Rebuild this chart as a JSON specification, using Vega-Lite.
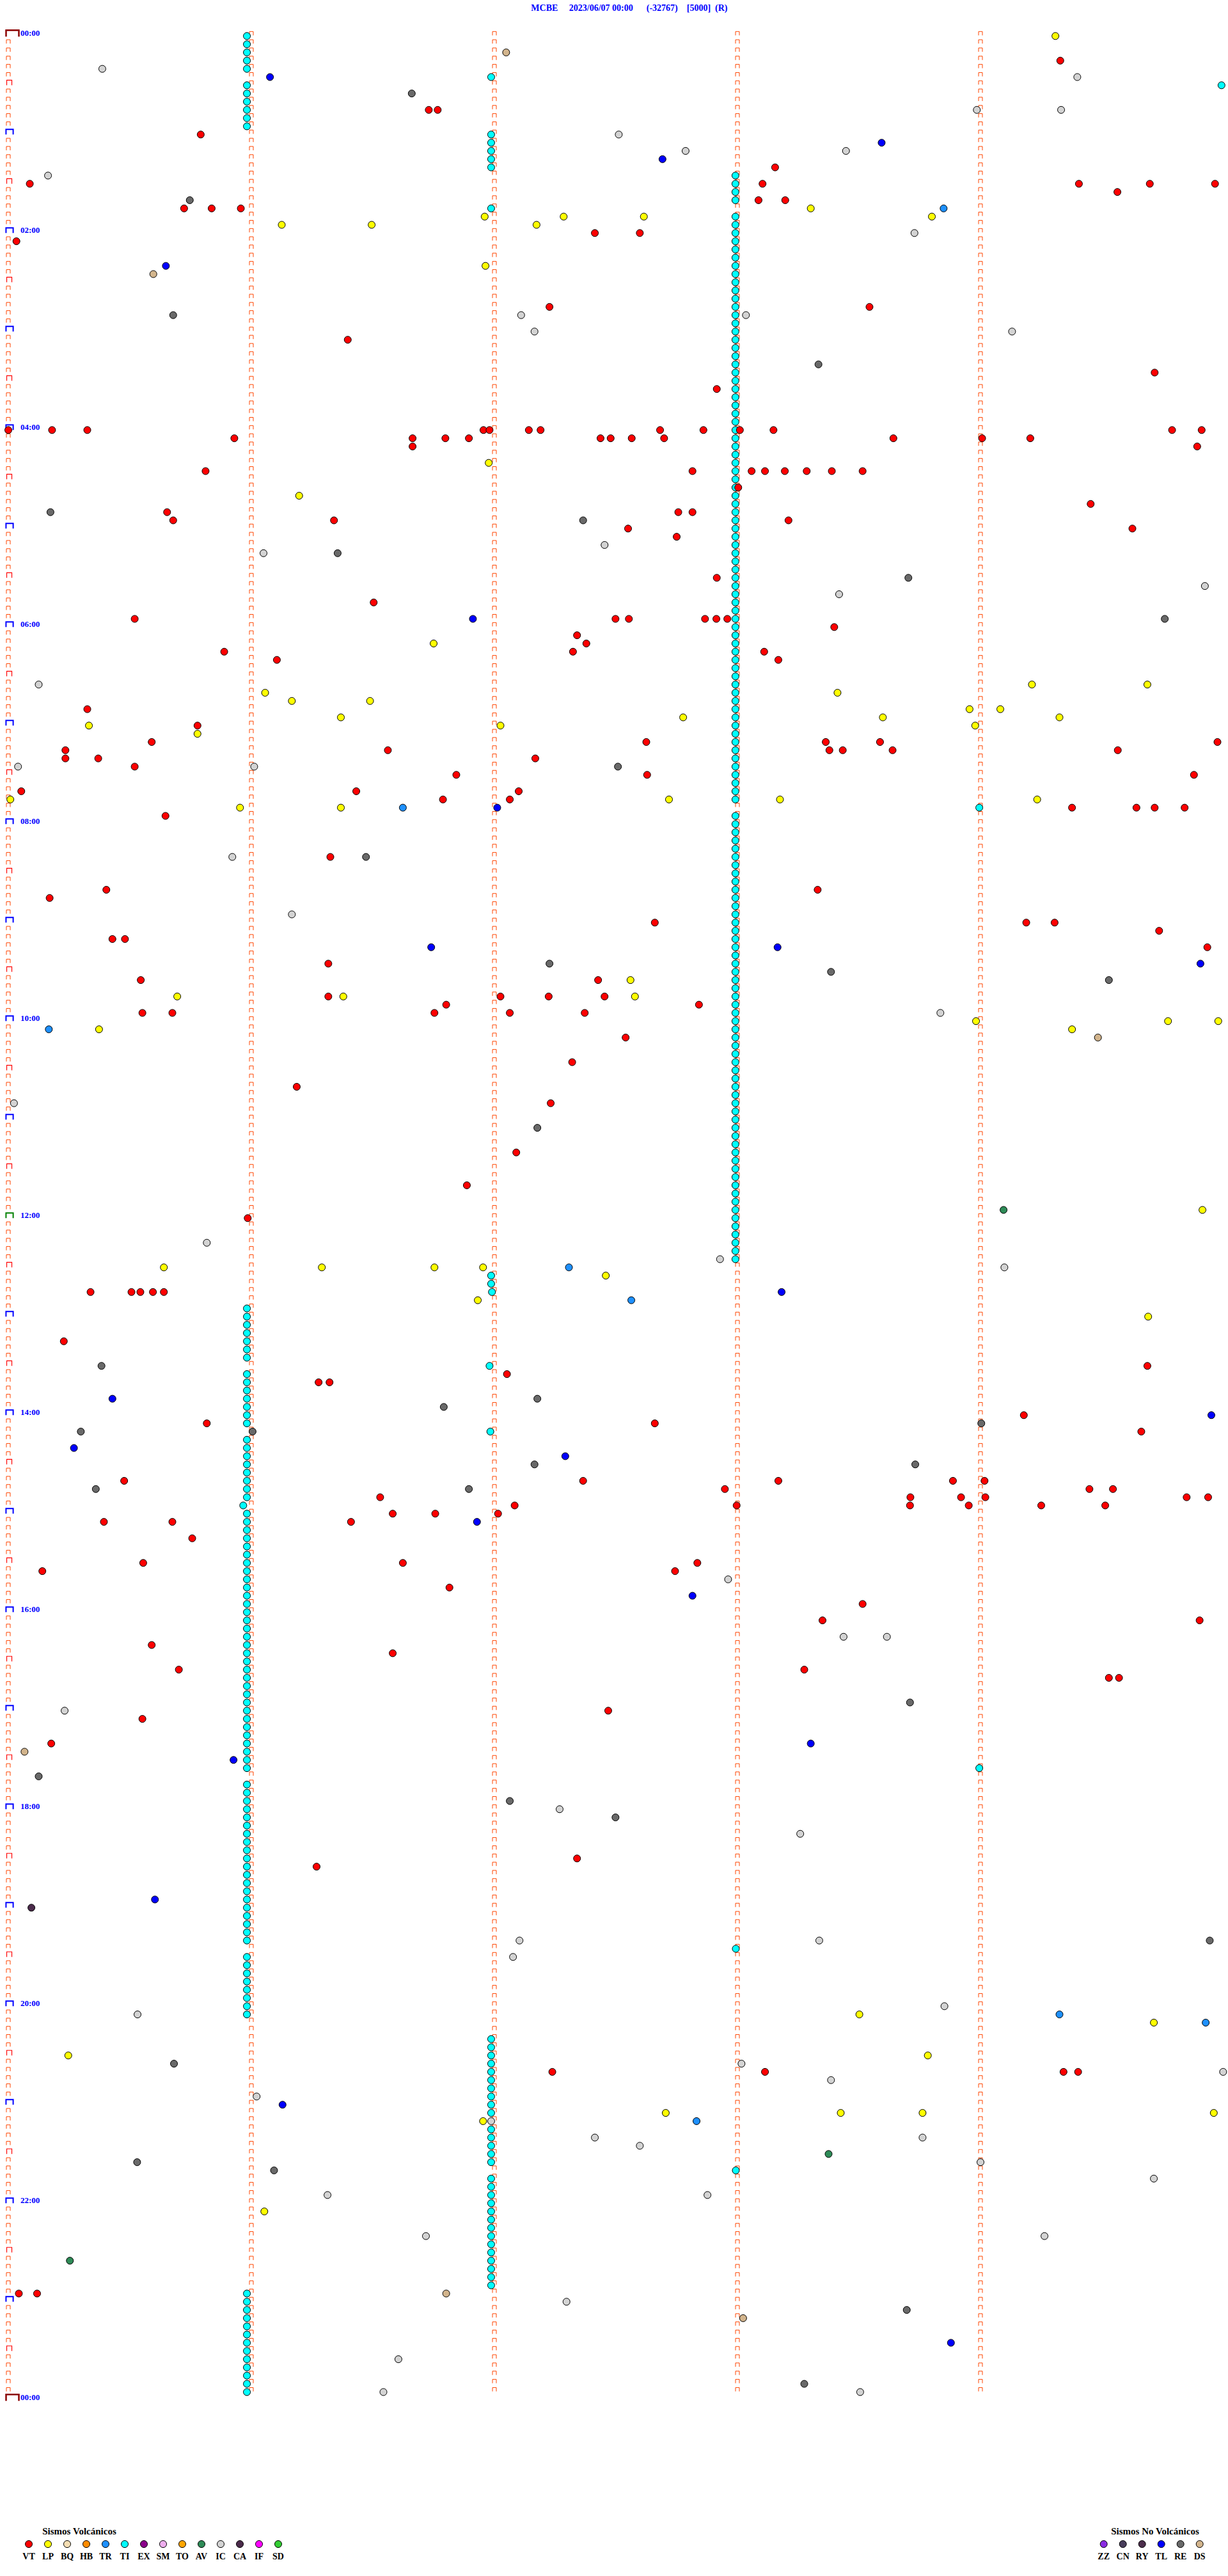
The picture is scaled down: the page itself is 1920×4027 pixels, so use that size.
{
"$schema": "https://vega.github.io/schema/vega-lite/v6.json",
"width": 1920, "height": 4027, "autosize": {"type": "none"}, "padding": 0,
"background": "white",
"config": {"view": {"stroke": null}},
"resolve": {"scale": {"x": "independent"}},
"datasets": {
"rows": [{"r":0,"lab":"00:00"},{"r":1},{"r":2},{"r":3},{"r":4},{"r":5},{"r":6},{"r":7},{"r":8},{"r":9},{"r":10},{"r":11},{"r":12},{"r":13},{"r":14},{"r":15},{"r":16},{"r":17},{"r":18},{"r":19},{"r":20},{"r":21},{"r":22},{"r":23},
{"r":24,"lab":"02:00"},{"r":25},{"r":26},{"r":27},{"r":28},{"r":29},{"r":30},{"r":31},{"r":32},{"r":33},{"r":34},{"r":35},{"r":36},{"r":37},{"r":38},{"r":39},{"r":40},{"r":41},{"r":42},{"r":43},{"r":44},{"r":45},{"r":46},{"r":47},
{"r":48,"lab":"04:00"},{"r":49},{"r":50},{"r":51},{"r":52},{"r":53},{"r":54},{"r":55},{"r":56},{"r":57},{"r":58},{"r":59},{"r":60},{"r":61},{"r":62},{"r":63},{"r":64},{"r":65},{"r":66},{"r":67},{"r":68},{"r":69},{"r":70},{"r":71},
{"r":72,"lab":"06:00"},{"r":73},{"r":74},{"r":75},{"r":76},{"r":77},{"r":78},{"r":79},{"r":80},{"r":81},{"r":82},{"r":83},{"r":84},{"r":85},{"r":86},{"r":87},{"r":88},{"r":89},{"r":90},{"r":91},{"r":92},{"r":93},{"r":94},{"r":95},
{"r":96,"lab":"08:00"},{"r":97},{"r":98},{"r":99},{"r":100},{"r":101},{"r":102},{"r":103},{"r":104},{"r":105},{"r":106},{"r":107},{"r":108},{"r":109},{"r":110},{"r":111},{"r":112},{"r":113},{"r":114},{"r":115},{"r":116},{"r":117},{"r":118},{"r":119},
{"r":120,"lab":"10:00"},{"r":121},{"r":122},{"r":123},{"r":124},{"r":125},{"r":126},{"r":127},{"r":128},{"r":129},{"r":130},{"r":131},{"r":132},{"r":133},{"r":134},{"r":135},{"r":136},{"r":137},{"r":138},{"r":139},{"r":140},{"r":141},{"r":142},{"r":143},
{"r":144,"lab":"12:00"},{"r":145},{"r":146},{"r":147},{"r":148},{"r":149},{"r":150},{"r":151},{"r":152},{"r":153},{"r":154},{"r":155},{"r":156},{"r":157},{"r":158},{"r":159},{"r":160},{"r":161},{"r":162},{"r":163},{"r":164},{"r":165},{"r":166},{"r":167},
{"r":168,"lab":"14:00"},{"r":169},{"r":170},{"r":171},{"r":172},{"r":173},{"r":174},{"r":175},{"r":176},{"r":177},{"r":178},{"r":179},{"r":180},{"r":181},{"r":182},{"r":183},{"r":184},{"r":185},{"r":186},{"r":187},{"r":188},{"r":189},{"r":190},{"r":191},
{"r":192,"lab":"16:00"},{"r":193},{"r":194},{"r":195},{"r":196},{"r":197},{"r":198},{"r":199},{"r":200},{"r":201},{"r":202},{"r":203},{"r":204},{"r":205},{"r":206},{"r":207},{"r":208},{"r":209},{"r":210},{"r":211},{"r":212},{"r":213},{"r":214},{"r":215},
{"r":216,"lab":"18:00"},{"r":217},{"r":218},{"r":219},{"r":220},{"r":221},{"r":222},{"r":223},{"r":224},{"r":225},{"r":226},{"r":227},{"r":228},{"r":229},{"r":230},{"r":231},{"r":232},{"r":233},{"r":234},{"r":235},{"r":236},{"r":237},{"r":238},{"r":239},
{"r":240,"lab":"20:00"},{"r":241},{"r":242},{"r":243},{"r":244},{"r":245},{"r":246},{"r":247},{"r":248},{"r":249},{"r":250},{"r":251},{"r":252},{"r":253},{"r":254},{"r":255},{"r":256},{"r":257},{"r":258},{"r":259},{"r":260},{"r":261},{"r":262},{"r":263},
{"r":264,"lab":"22:00"},{"r":265},{"r":266},{"r":267},{"r":268},{"r":269},{"r":270},{"r":271},{"r":272},{"r":273},{"r":274},{"r":275},{"r":276},{"r":277},{"r":278},{"r":279},{"r":280},{"r":281},{"r":282},{"r":283},{"r":284},{"r":285},{"r":286},{"r":287},
{"r":288,"lab":"00:00"}],
"ev": [
{"r":0,"s":58.9,"t":"TI"},{"r":1,"s":58.9,"t":"TI"},{"r":2,"s":58.9,"t":"TI"},{"r":3,"s":58.9,"t":"TI"},{"r":4,"s":58.9,"t":"TI"},{"r":6,"s":58.9,"t":"TI"},{"r":7,"s":58.9,"t":"TI"},{"r":8,"s":58.9,"t":"TI"},{"r":9,"s":58.9,"t":"TI"},{"r":10,"s":58.9,"t":"TI"},{"r":11,"s":58.9,"t":"TI"},
{"r":155,"s":58.9,"t":"TI"},{"r":156,"s":58.9,"t":"TI"},{"r":157,"s":58.9,"t":"TI"},{"r":158,"s":58.9,"t":"TI"},{"r":159,"s":58.9,"t":"TI"},{"r":160,"s":58.9,"t":"TI"},{"r":161,"s":58.9,"t":"TI"},
{"r":163,"s":58.9,"t":"TI"},{"r":164,"s":58.9,"t":"TI"},{"r":165,"s":58.9,"t":"TI"},{"r":166,"s":58.9,"t":"TI"},{"r":167,"s":58.9,"t":"TI"},{"r":168,"s":58.9,"t":"TI"},{"r":169,"s":58.9,"t":"TI"},
{"r":171,"s":58.9,"t":"TI"},{"r":172,"s":58.9,"t":"TI"},{"r":173,"s":58.9,"t":"TI"},{"r":174,"s":58.9,"t":"TI"},{"r":175,"s":58.9,"t":"TI"},{"r":176,"s":58.9,"t":"TI"},{"r":177,"s":58.9,"t":"TI"},{"r":178,"s":58.9,"t":"TI"},{"r":179,"s":58.0,"t":"TI"},{"r":180,"s":58.9,"t":"TI"},
{"r":181,"s":58.9,"t":"TI"},{"r":182,"s":58.9,"t":"TI"},{"r":183,"s":58.9,"t":"TI"},{"r":184,"s":58.9,"t":"TI"},{"r":185,"s":58.9,"t":"TI"},{"r":186,"s":58.9,"t":"TI"},{"r":187,"s":58.9,"t":"TI"},{"r":188,"s":58.9,"t":"TI"},{"r":189,"s":58.9,"t":"TI"},{"r":190,"s":58.9,"t":"TI"},
{"r":191,"s":58.9,"t":"TI"},{"r":192,"s":58.9,"t":"TI"},{"r":193,"s":58.9,"t":"TI"},{"r":194,"s":58.9,"t":"TI"},{"r":195,"s":58.9,"t":"TI"},{"r":196,"s":58.9,"t":"TI"},{"r":197,"s":58.9,"t":"TI"},{"r":198,"s":58.9,"t":"TI"},{"r":199,"s":58.9,"t":"TI"},{"r":200,"s":58.9,"t":"TI"},
{"r":201,"s":58.9,"t":"TI"},{"r":202,"s":58.9,"t":"TI"},{"r":203,"s":58.9,"t":"TI"},{"r":204,"s":58.9,"t":"TI"},{"r":205,"s":58.9,"t":"TI"},{"r":206,"s":58.9,"t":"TI"},{"r":207,"s":58.9,"t":"TI"},{"r":208,"s":58.9,"t":"TI"},{"r":209,"s":58.9,"t":"TI"},{"r":210,"s":58.9,"t":"TI"},{"r":211,"s":58.9,"t":"TI"},
{"r":213,"s":58.9,"t":"TI"},{"r":214,"s":58.9,"t":"TI"},{"r":215,"s":58.9,"t":"TI"},{"r":216,"s":58.9,"t":"TI"},{"r":217,"s":58.9,"t":"TI"},{"r":218,"s":58.9,"t":"TI"},{"r":219,"s":58.9,"t":"TI"},{"r":220,"s":58.9,"t":"TI"},{"r":221,"s":58.9,"t":"TI"},{"r":222,"s":58.9,"t":"TI"},
{"r":223,"s":58.9,"t":"TI"},{"r":224,"s":58.9,"t":"TI"},{"r":225,"s":58.9,"t":"TI"},{"r":226,"s":58.9,"t":"TI"},{"r":227,"s":58.9,"t":"TI"},{"r":228,"s":58.9,"t":"TI"},{"r":229,"s":58.9,"t":"TI"},{"r":230,"s":58.9,"t":"TI"},{"r":231,"s":58.9,"t":"TI"},{"r":232,"s":58.9,"t":"TI"},
{"r":234,"s":58.9,"t":"TI"},{"r":235,"s":58.9,"t":"TI"},{"r":236,"s":58.9,"t":"TI"},{"r":237,"s":58.9,"t":"TI"},{"r":238,"s":58.9,"t":"TI"},{"r":239,"s":58.9,"t":"TI"},{"r":240,"s":58.9,"t":"TI"},{"r":241,"s":58.9,"t":"TI"},
{"r":275,"s":58.9,"t":"TI"},{"r":276,"s":58.9,"t":"TI"},{"r":277,"s":58.9,"t":"TI"},{"r":278,"s":58.9,"t":"TI"},{"r":279,"s":58.9,"t":"TI"},{"r":280,"s":58.9,"t":"TI"},{"r":281,"s":58.9,"t":"TI"},{"r":282,"s":58.9,"t":"TI"},{"r":283,"s":58.9,"t":"TI"},{"r":284,"s":58.9,"t":"TI"},{"r":285,"s":58.9,"t":"TI"},{"r":286,"s":58.9,"t":"TI"},{"r":287,"s":58.9,"t":"TI"},
{"r":5,"s":119.2,"t":"TI"},{"r":12,"s":119.2,"t":"TI"},{"r":13,"s":119.2,"t":"TI"},{"r":14,"s":119.2,"t":"TI"},{"r":15,"s":119.2,"t":"TI"},{"r":16,"s":119.2,"t":"TI"},{"r":21,"s":119.2,"t":"TI"},
{"r":151,"s":119.2,"t":"TI"},{"r":152,"s":119.2,"t":"TI"},{"r":153,"s":119.4,"t":"TI"},{"r":162,"s":118.8,"t":"TI"},{"r":170,"s":119.0,"t":"TI"},
{"r":244,"s":119.2,"t":"TI"},{"r":245,"s":119.2,"t":"TI"},{"r":246,"s":119.2,"t":"TI"},{"r":247,"s":119.2,"t":"TI"},{"r":248,"s":119.2,"t":"TI"},{"r":249,"s":119.2,"t":"TI"},{"r":250,"s":119.2,"t":"TI"},{"r":251,"s":119.2,"t":"TI"},{"r":252,"s":119.2,"t":"TI"},{"r":253,"s":119.2,"t":"TI"},
{"r":255,"s":119.2,"t":"TI"},{"r":256,"s":119.2,"t":"TI"},{"r":257,"s":119.2,"t":"TI"},{"r":258,"s":119.2,"t":"TI"},{"r":259,"s":119.2,"t":"TI"},
{"r":261,"s":119.2,"t":"TI"},{"r":262,"s":119.2,"t":"TI"},{"r":263,"s":119.2,"t":"TI"},{"r":264,"s":119.2,"t":"TI"},{"r":265,"s":119.2,"t":"TI"},{"r":266,"s":119.2,"t":"TI"},{"r":267,"s":119.2,"t":"TI"},{"r":268,"s":119.2,"t":"TI"},{"r":269,"s":119.2,"t":"TI"},{"r":270,"s":119.2,"t":"TI"},{"r":271,"s":119.2,"t":"TI"},{"r":272,"s":119.2,"t":"TI"},{"r":273,"s":119.2,"t":"TI"},{"r":274,"s":119.2,"t":"TI"},
{"r":17,"s":179.5,"t":"TI"},{"r":18,"s":179.5,"t":"TI"},{"r":19,"s":179.5,"t":"TI"},{"r":20,"s":179.5,"t":"TI"},
{"r":22,"s":179.5,"t":"TI"},{"r":23,"s":179.5,"t":"TI"},{"r":24,"s":179.5,"t":"TI"},{"r":25,"s":179.5,"t":"TI"},{"r":26,"s":179.5,"t":"TI"},{"r":27,"s":179.5,"t":"TI"},{"r":28,"s":179.5,"t":"TI"},{"r":29,"s":179.5,"t":"TI"},{"r":30,"s":179.5,"t":"TI"},
{"r":31,"s":179.5,"t":"TI"},{"r":32,"s":179.5,"t":"TI"},{"r":33,"s":179.5,"t":"TI"},{"r":34,"s":179.5,"t":"TI"},{"r":35,"s":179.5,"t":"TI"},{"r":36,"s":179.5,"t":"TI"},{"r":37,"s":179.5,"t":"TI"},{"r":38,"s":179.5,"t":"TI"},{"r":39,"s":179.5,"t":"TI"},{"r":40,"s":179.5,"t":"TI"},
{"r":41,"s":179.5,"t":"TI"},{"r":42,"s":179.5,"t":"TI"},{"r":43,"s":179.5,"t":"TI"},{"r":44,"s":179.5,"t":"TI"},{"r":45,"s":179.5,"t":"TI"},{"r":46,"s":179.5,"t":"TI"},{"r":47,"s":179.5,"t":"TI"},{"r":48,"s":179.5,"t":"TI"},{"r":49,"s":179.5,"t":"TI"},{"r":50,"s":179.5,"t":"TI"},
{"r":51,"s":179.5,"t":"TI"},{"r":52,"s":179.5,"t":"TI"},{"r":53,"s":179.5,"t":"TI"},{"r":54,"s":179.5,"t":"TI"},{"r":55,"s":179.5,"t":"TI"},{"r":56,"s":179.5,"t":"TI"},{"r":57,"s":179.5,"t":"TI"},{"r":58,"s":179.5,"t":"TI"},{"r":59,"s":179.5,"t":"TI"},{"r":60,"s":179.5,"t":"TI"},
{"r":61,"s":179.5,"t":"TI"},{"r":62,"s":179.5,"t":"TI"},{"r":63,"s":179.5,"t":"TI"},{"r":64,"s":179.5,"t":"TI"},{"r":65,"s":179.5,"t":"TI"},{"r":66,"s":179.5,"t":"TI"},{"r":67,"s":179.5,"t":"TI"},{"r":68,"s":179.5,"t":"TI"},{"r":69,"s":179.5,"t":"TI"},{"r":70,"s":179.5,"t":"TI"},
{"r":71,"s":179.5,"t":"TI"},{"r":72,"s":179.5,"t":"TI"},{"r":73,"s":179.5,"t":"TI"},{"r":74,"s":179.5,"t":"TI"},{"r":75,"s":179.5,"t":"TI"},{"r":76,"s":179.5,"t":"TI"},{"r":77,"s":179.5,"t":"TI"},{"r":78,"s":179.5,"t":"TI"},{"r":79,"s":179.5,"t":"TI"},{"r":80,"s":179.5,"t":"TI"},
{"r":81,"s":179.5,"t":"TI"},{"r":82,"s":179.5,"t":"TI"},{"r":83,"s":179.5,"t":"TI"},{"r":84,"s":179.5,"t":"TI"},{"r":85,"s":179.5,"t":"TI"},{"r":86,"s":179.5,"t":"TI"},{"r":87,"s":179.5,"t":"TI"},{"r":88,"s":179.5,"t":"TI"},{"r":89,"s":179.5,"t":"TI"},{"r":90,"s":179.5,"t":"TI"},
{"r":91,"s":179.5,"t":"TI"},{"r":92,"s":179.5,"t":"TI"},{"r":93,"s":179.5,"t":"TI"},
{"r":95,"s":179.5,"t":"TI"},{"r":96,"s":179.5,"t":"TI"},{"r":97,"s":179.5,"t":"TI"},{"r":98,"s":179.5,"t":"TI"},{"r":99,"s":179.5,"t":"TI"},{"r":100,"s":179.5,"t":"TI"},
{"r":101,"s":179.5,"t":"TI"},{"r":102,"s":179.5,"t":"TI"},{"r":103,"s":179.5,"t":"TI"},{"r":104,"s":179.5,"t":"TI"},{"r":105,"s":179.5,"t":"TI"},{"r":106,"s":179.5,"t":"TI"},{"r":107,"s":179.5,"t":"TI"},{"r":108,"s":179.5,"t":"TI"},{"r":109,"s":179.5,"t":"TI"},{"r":110,"s":179.5,"t":"TI"},
{"r":111,"s":179.5,"t":"TI"},{"r":112,"s":179.5,"t":"TI"},{"r":113,"s":179.5,"t":"TI"},{"r":114,"s":179.5,"t":"TI"},{"r":115,"s":179.5,"t":"TI"},{"r":116,"s":179.5,"t":"TI"},{"r":117,"s":179.5,"t":"TI"},{"r":118,"s":179.5,"t":"TI"},{"r":119,"s":179.5,"t":"TI"},{"r":120,"s":179.5,"t":"TI"},
{"r":121,"s":179.5,"t":"TI"},{"r":122,"s":179.5,"t":"TI"},{"r":123,"s":179.5,"t":"TI"},{"r":124,"s":179.5,"t":"TI"},{"r":125,"s":179.5,"t":"TI"},{"r":126,"s":179.5,"t":"TI"},{"r":127,"s":179.5,"t":"TI"},{"r":128,"s":179.5,"t":"TI"},{"r":129,"s":179.5,"t":"TI"},{"r":130,"s":179.5,"t":"TI"},
{"r":131,"s":179.5,"t":"TI"},{"r":132,"s":179.5,"t":"TI"},{"r":133,"s":179.5,"t":"TI"},{"r":134,"s":179.5,"t":"TI"},{"r":135,"s":179.5,"t":"TI"},{"r":136,"s":179.5,"t":"TI"},{"r":137,"s":179.5,"t":"TI"},{"r":138,"s":179.5,"t":"TI"},{"r":139,"s":179.5,"t":"TI"},{"r":140,"s":179.5,"t":"TI"},
{"r":141,"s":179.5,"t":"TI"},{"r":142,"s":179.5,"t":"TI"},{"r":143,"s":179.5,"t":"TI"},{"r":144,"s":179.5,"t":"TI"},{"r":145,"s":179.5,"t":"TI"},{"r":146,"s":179.5,"t":"TI"},{"r":147,"s":179.5,"t":"TI"},{"r":148,"s":179.5,"t":"TI"},{"r":149,"s":179.5,"t":"TI"},
{"r":233,"s":179.6,"t":"TI"},{"r":260,"s":179.6,"t":"TI"},{"r":6,"s":299.5,"t":"TI"},{"r":94,"s":239.7,"t":"TI"},{"r":211,"s":239.7,"t":"TI"},
{"r":0,"s":258.5,"t":"LP"},{"r":2,"s":122.9,"t":"DS"},{"r":3,"s":259.7,"t":"VT"},{"r":4,"s":23.2,"t":"IC"},{"r":5,"s":263.9,"t":"IC"},{"r":5,"s":64.6,"t":"TL"},
{"r":7,"s":99.6,"t":"RE"},{"r":9,"s":103.8,"t":"VT"},{"r":9,"s":106,"t":"VT"},{"r":9,"s":239.1,"t":"IC"},{"r":9,"s":259.9,"t":"IC"},
{"r":12,"s":47.5,"t":"VT"},{"r":12,"s":150.7,"t":"IC"},{"r":13,"s":215.6,"t":"TL"},{"r":14,"s":167.2,"t":"IC"},{"r":14,"s":206.8,"t":"IC"},{"r":15,"s":161.5,"t":"TL"},{"r":16,"s":189.3,"t":"VT"},{"r":17,"s":9.8,"t":"IC"},
{"r":18,"s":5.3,"t":"VT"},{"r":18,"s":186.2,"t":"VT"},{"r":18,"s":264.3,"t":"VT"},{"r":18,"s":281.8,"t":"VT"},{"r":18,"s":297.9,"t":"VT"},{"r":19,"s":273.8,"t":"VT"},
{"r":20,"s":44.8,"t":"RE"},{"r":20,"s":185.2,"t":"VT"},{"r":20,"s":191.8,"t":"VT"},
{"r":21,"s":43.4,"t":"VT"},{"r":21,"s":50.2,"t":"VT"},{"r":21,"s":57.4,"t":"VT"},{"r":21,"s":198.1,"t":"LP"},{"r":21,"s":230.9,"t":"TR"},
{"r":22,"s":117.6,"t":"LP"},{"r":22,"s":137.1,"t":"LP"},{"r":22,"s":156.9,"t":"LP"},{"r":22,"s":228,"t":"LP"},
{"r":23,"s":67.5,"t":"LP"},{"r":23,"s":89.7,"t":"LP"},{"r":23,"s":130.4,"t":"LP"},
{"r":24,"s":144.8,"t":"VT"},{"r":24,"s":155.9,"t":"VT"},{"r":24,"s":223.7,"t":"IC"},{"r":25,"s":2.0,"t":"VT"},
{"r":28,"s":38.9,"t":"TL"},{"r":28,"s":117.8,"t":"LP"},{"r":29,"s":35.8,"t":"DS"},
{"r":33,"s":133.6,"t":"VT"},{"r":33,"s":212.6,"t":"VT"},{"r":34,"s":40.7,"t":"RE"},{"r":34,"s":126.6,"t":"IC"},{"r":34,"s":182.1,"t":"IC"},
{"r":36,"s":129.9,"t":"IC"},{"r":36,"s":247.8,"t":"IC"},{"r":37,"s":83.8,"t":"VT"},{"r":40,"s":200,"t":"RE"},{"r":41,"s":283,"t":"VT"},{"r":43,"s":174.9,"t":"VT"},
{"r":48,"s":0.0,"t":"VT"},{"r":48,"s":10.8,"t":"VT"},{"r":48,"s":19.5,"t":"VT"},{"r":48,"s":117.3,"t":"VT"},{"r":48,"s":118.8,"t":"VT"},{"r":48,"s":128.5,"t":"VT"},{"r":48,"s":131.4,"t":"VT"},{"r":48,"s":160.9,"t":"VT"},{"r":48,"s":171.6,"t":"VT"},{"r":48,"s":180.6,"t":"VT"},{"r":48,"s":188.9,"t":"VT"},{"r":48,"s":287.3,"t":"VT"},{"r":48,"s":294.6,"t":"VT"},
{"r":49,"s":55.8,"t":"VT"},{"r":49,"s":99.8,"t":"VT"},{"r":49,"s":107.9,"t":"VT"},{"r":49,"s":113.7,"t":"VT"},{"r":49,"s":146.2,"t":"VT"},{"r":49,"s":148.7,"t":"VT"},{"r":49,"s":153.9,"t":"VT"},{"r":49,"s":161.9,"t":"VT"},{"r":49,"s":218.5,"t":"VT"},{"r":49,"s":240.4,"t":"VT"},{"r":49,"s":252.3,"t":"VT"},
{"r":50,"s":99.8,"t":"VT"},{"r":50,"s":293.5,"t":"VT"},{"r":52,"s":118.6,"t":"LP"},
{"r":53,"s":48.7,"t":"VT"},{"r":53,"s":168.9,"t":"VT"},{"r":53,"s":183.5,"t":"VT"},{"r":53,"s":186.8,"t":"VT"},{"r":53,"s":191.7,"t":"VT"},{"r":53,"s":197.1,"t":"VT"},{"r":53,"s":203.3,"t":"VT"},{"r":53,"s":210.9,"t":"VT"},
{"r":55,"s":180.2,"t":"VT"},{"r":56,"s":71.8,"t":"LP"},{"r":57,"s":267.2,"t":"VT"},
{"r":58,"s":10.4,"t":"RE"},{"r":58,"s":39.2,"t":"VT"},{"r":58,"s":165.4,"t":"VT"},{"r":58,"s":168.9,"t":"VT"},
{"r":59,"s":40.7,"t":"VT"},{"r":59,"s":80.4,"t":"VT"},{"r":59,"s":141.9,"t":"RE"},{"r":59,"s":192.6,"t":"VT"},
{"r":60,"s":153,"t":"VT"},{"r":60,"s":277.5,"t":"VT"},{"r":61,"s":165,"t":"VT"},{"r":62,"s":147.2,"t":"IC"},{"r":63,"s":63.0,"t":"IC"},{"r":63,"s":81.3,"t":"RE"},
{"r":66,"s":174.9,"t":"VT"},{"r":66,"s":222.2,"t":"RE"},{"r":67,"s":295.4,"t":"IC"},{"r":68,"s":205.1,"t":"IC"},{"r":69,"s":90.2,"t":"VT"},
{"r":71,"s":31.2,"t":"VT"},{"r":71,"s":114.7,"t":"TL"},{"r":71,"s":149.9,"t":"VT"},{"r":71,"s":153.2,"t":"VT"},{"r":71,"s":172,"t":"VT"},{"r":71,"s":174.8,"t":"VT"},{"r":71,"s":177.5,"t":"VT"},{"r":71,"s":285.5,"t":"RE"},
{"r":72,"s":203.9,"t":"VT"},{"r":73,"s":140.4,"t":"VT"},{"r":74,"s":105,"t":"LP"},{"r":74,"s":142.7,"t":"VT"},
{"r":75,"s":53.3,"t":"VT"},{"r":75,"s":139.4,"t":"VT"},{"r":75,"s":186.6,"t":"VT"},{"r":76,"s":66.3,"t":"VT"},{"r":76,"s":190.1,"t":"VT"},
{"r":79,"s":7.5,"t":"IC"},{"r":79,"s":252.7,"t":"LP"},{"r":79,"s":281.2,"t":"LP"},{"r":80,"s":63.4,"t":"LP"},{"r":80,"s":204.7,"t":"LP"},
{"r":81,"s":70,"t":"LP"},{"r":81,"s":89.3,"t":"LP"},{"r":82,"s":19.5,"t":"VT"},{"r":82,"s":237.3,"t":"LP"},{"r":82,"s":244.9,"t":"LP"},
{"r":83,"s":82.1,"t":"LP"},{"r":83,"s":166.6,"t":"LP"},{"r":83,"s":215.9,"t":"LP"},{"r":83,"s":259.5,"t":"LP"},
{"r":84,"s":19.9,"t":"LP"},{"r":84,"s":46.7,"t":"VT"},{"r":84,"s":121.5,"t":"LP"},{"r":84,"s":238.7,"t":"LP"},{"r":85,"s":46.7,"t":"LP"},
{"r":86,"s":35.4,"t":"VT"},{"r":86,"s":157.5,"t":"VT"},{"r":86,"s":201.8,"t":"VT"},{"r":86,"s":215.2,"t":"VT"},{"r":86,"s":298.5,"t":"VT"},
{"r":87,"s":14.1,"t":"VT"},{"r":87,"s":93.7,"t":"VT"},{"r":87,"s":202.7,"t":"VT"},{"r":87,"s":206,"t":"VT"},{"r":87,"s":218.3,"t":"VT"},{"r":87,"s":273.9,"t":"VT"},
{"r":88,"s":14.1,"t":"VT"},{"r":88,"s":22.2,"t":"VT"},{"r":88,"s":130.1,"t":"VT"},
{"r":89,"s":2.4,"t":"IC"},{"r":89,"s":31.2,"t":"VT"},{"r":89,"s":60.7,"t":"IC"},{"r":89,"s":150.5,"t":"RE"},
{"r":90,"s":110.6,"t":"VT"},{"r":90,"s":157.7,"t":"VT"},{"r":90,"s":292.7,"t":"VT"},
{"r":92,"s":3.2,"t":"VT"},{"r":92,"s":85.9,"t":"VT"},{"r":92,"s":126,"t":"VT"},
{"r":93,"s":0.5,"t":"LP"},{"r":93,"s":107.3,"t":"VT"},{"r":93,"s":123.8,"t":"VT"},{"r":93,"s":163.1,"t":"LP"},{"r":93,"s":190.5,"t":"LP"},{"r":93,"s":254,"t":"LP"},
{"r":94,"s":57.2,"t":"LP"},{"r":94,"s":82.1,"t":"LP"},{"r":94,"s":97.4,"t":"TR"},{"r":94,"s":120.7,"t":"TL"},{"r":94,"s":262.6,"t":"VT"},{"r":94,"s":278.5,"t":"VT"},{"r":94,"s":283,"t":"VT"},{"r":94,"s":290.4,"t":"VT"},
{"r":95,"s":38.8,"t":"VT"},{"r":100,"s":55.3,"t":"IC"},{"r":100,"s":79.5,"t":"VT"},{"r":100,"s":88.3,"t":"RE"},
{"r":104,"s":24.2,"t":"VT"},{"r":104,"s":199.8,"t":"VT"},{"r":105,"s":10.2,"t":"VT"},{"r":107,"s":70,"t":"IC"},
{"r":108,"s":159.6,"t":"VT"},{"r":108,"s":251.3,"t":"VT"},{"r":108,"s":258.3,"t":"VT"},{"r":109,"s":284.1,"t":"VT"},
{"r":110,"s":25.7,"t":"VT"},{"r":110,"s":28.8,"t":"VT"},{"r":111,"s":104.4,"t":"TL"},{"r":111,"s":189.9,"t":"TL"},{"r":111,"s":296,"t":"VT"},
{"r":113,"s":79,"t":"VT"},{"r":113,"s":133.6,"t":"RE"},{"r":113,"s":294.3,"t":"TL"},{"r":114,"s":203.1,"t":"RE"},
{"r":115,"s":32.7,"t":"VT"},{"r":115,"s":145.6,"t":"VT"},{"r":115,"s":153.6,"t":"LP"},{"r":115,"s":271.7,"t":"RE"},
{"r":117,"s":41.7,"t":"LP"},{"r":117,"s":79,"t":"VT"},{"r":117,"s":82.7,"t":"LP"},{"r":117,"s":121.5,"t":"VT"},{"r":117,"s":133.4,"t":"VT"},{"r":117,"s":147.2,"t":"VT"},{"r":117,"s":154.7,"t":"LP"},
{"r":118,"s":108.1,"t":"VT"},{"r":118,"s":170.5,"t":"VT"},
{"r":119,"s":33.1,"t":"VT"},{"r":119,"s":40.5,"t":"VT"},{"r":119,"s":105.2,"t":"VT"},{"r":119,"s":123.8,"t":"VT"},{"r":119,"s":142.3,"t":"VT"},{"r":119,"s":230.1,"t":"IC"},
{"r":120,"s":238.9,"t":"LP"},{"r":120,"s":286.3,"t":"LP"},{"r":120,"s":298.7,"t":"LP"},
{"r":121,"s":10,"t":"TR"},{"r":121,"s":22.4,"t":"LP"},{"r":121,"s":262.6,"t":"LP"},{"r":122,"s":152.4,"t":"VT"},{"r":122,"s":269,"t":"DS"},
{"r":125,"s":139.2,"t":"VT"},{"r":128,"s":71.2,"t":"VT"},{"r":130,"s":1.4,"t":"IC"},{"r":130,"s":133.9,"t":"VT"},{"r":133,"s":130.6,"t":"RE"},{"r":136,"s":125.4,"t":"VT"},{"r":140,"s":113.2,"t":"VT"},
{"r":143,"s":245.7,"t":"AV"},{"r":143,"s":294.8,"t":"LP"},
{"r":144,"s":59.1,"t":"VT"},{"r":147,"s":49,"t":"IC"},{"r":149,"s":175.7,"t":"IC"},
{"r":150,"s":38.4,"t":"LP"},{"r":150,"s":77.4,"t":"LP"},{"r":150,"s":105.2,"t":"LP"},{"r":150,"s":117.2,"t":"LP"},{"r":150,"s":138.4,"t":"TR"},{"r":150,"s":245.9,"t":"IC"},
{"r":151,"s":147.5,"t":"LP"},
{"r":153,"s":20.3,"t":"VT"},{"r":153,"s":30.4,"t":"VT"},{"r":153,"s":32.6,"t":"VT"},{"r":153,"s":35.7,"t":"VT"},{"r":153,"s":38.4,"t":"VT"},{"r":153,"s":190.9,"t":"TL"},
{"r":154,"s":115.9,"t":"LP"},{"r":154,"s":153.8,"t":"TR"},{"r":156,"s":281.4,"t":"LP"},{"r":159,"s":13.7,"t":"VT"},
{"r":162,"s":23,"t":"RE"},{"r":162,"s":281.2,"t":"VT"},{"r":163,"s":123.1,"t":"VT"},{"r":164,"s":76.6,"t":"VT"},{"r":164,"s":79.3,"t":"VT"},
{"r":166,"s":25.7,"t":"TL"},{"r":166,"s":130.6,"t":"RE"},{"r":167,"s":107.5,"t":"RE"},{"r":168,"s":250.7,"t":"VT"},{"r":168,"s":297,"t":"TL"},
{"r":169,"s":49,"t":"VT"},{"r":169,"s":159.6,"t":"VT"},{"r":169,"s":240.2,"t":"RE"},
{"r":170,"s":17.9,"t":"RE"},{"r":170,"s":60.3,"t":"RE"},{"r":170,"s":279.7,"t":"VT"},
{"r":172,"s":16.2,"t":"TL"},{"r":173,"s":137.5,"t":"TL"},{"r":174,"s":129.9,"t":"RE"},{"r":174,"s":223.9,"t":"RE"},
{"r":176,"s":28.6,"t":"VT"},{"r":176,"s":141.9,"t":"VT"},{"r":176,"s":190.1,"t":"VT"},{"r":176,"s":233.2,"t":"VT"},{"r":176,"s":241,"t":"VT"},
{"r":177,"s":21.6,"t":"RE"},{"r":177,"s":113.7,"t":"RE"},{"r":177,"s":176.9,"t":"VT"},{"r":177,"s":266.9,"t":"VT"},{"r":177,"s":272.7,"t":"VT"},
{"r":178,"s":91.8,"t":"VT"},{"r":178,"s":222.7,"t":"VT"},{"r":178,"s":235.2,"t":"VT"},{"r":178,"s":241.2,"t":"VT"},{"r":178,"s":290.9,"t":"VT"},{"r":178,"s":296.2,"t":"VT"},
{"r":179,"s":125,"t":"VT"},{"r":179,"s":179.8,"t":"VT"},{"r":179,"s":222.6,"t":"VT"},{"r":179,"s":237.1,"t":"VT"},{"r":179,"s":255,"t":"VT"},{"r":179,"s":270.8,"t":"VT"},
{"r":180,"s":94.9,"t":"VT"},{"r":180,"s":105.4,"t":"VT"},{"r":180,"s":120.9,"t":"VT"},
{"r":181,"s":23.6,"t":"VT"},{"r":181,"s":40.5,"t":"VT"},{"r":181,"s":84.6,"t":"VT"},{"r":181,"s":115.7,"t":"TL"},
{"r":183,"s":45.4,"t":"VT"},{"r":186,"s":33.3,"t":"VT"},{"r":186,"s":97.4,"t":"VT"},{"r":186,"s":170.1,"t":"VT"},
{"r":187,"s":8.4,"t":"VT"},{"r":187,"s":164.6,"t":"VT"},{"r":188,"s":177.7,"t":"IC"},{"r":189,"s":108.9,"t":"VT"},{"r":190,"s":168.9,"t":"TL"},{"r":191,"s":210.9,"t":"VT"},
{"r":193,"s":201,"t":"VT"},{"r":193,"s":294.1,"t":"VT"},{"r":195,"s":206.2,"t":"IC"},{"r":195,"s":216.9,"t":"IC"},{"r":196,"s":35.4,"t":"VT"},{"r":197,"s":94.9,"t":"VT"},
{"r":199,"s":42.1,"t":"VT"},{"r":199,"s":196.5,"t":"VT"},{"r":200,"s":271.7,"t":"VT"},{"r":200,"s":274.2,"t":"VT"},
{"r":203,"s":222.6,"t":"RE"},{"r":204,"s":13.9,"t":"IC"},{"r":204,"s":148.1,"t":"VT"},{"r":205,"s":33.1,"t":"VT"},
{"r":208,"s":10.6,"t":"VT"},{"r":208,"s":198.1,"t":"TL"},{"r":209,"s":4,"t":"DS"},{"r":210,"s":55.6,"t":"TL"},{"r":212,"s":7.5,"t":"RE"},{"r":215,"s":123.8,"t":"RE"},
{"r":216,"s":136.1,"t":"IC"},{"r":217,"s":149.9,"t":"RE"},{"r":219,"s":195.5,"t":"IC"},{"r":222,"s":140.4,"t":"VT"},{"r":223,"s":76.1,"t":"VT"},
{"r":227,"s":36.2,"t":"TL"},{"r":228,"s":5.7,"t":"CA"},
{"r":232,"s":126.2,"t":"IC"},{"r":232,"s":200.2,"t":"IC"},{"r":232,"s":296.6,"t":"RE"},{"r":234,"s":124.6,"t":"IC"},
{"r":240,"s":231.1,"t":"IC"},{"r":241,"s":31.9,"t":"IC"},{"r":241,"s":210.1,"t":"LP"},{"r":241,"s":259.5,"t":"TR"},
{"r":242,"s":282.8,"t":"LP"},{"r":242,"s":295.6,"t":"TR"},{"r":246,"s":14.8,"t":"LP"},{"r":246,"s":227,"t":"LP"},
{"r":247,"s":40.9,"t":"RE"},{"r":247,"s":181,"t":"IC"},
{"r":248,"s":134.3,"t":"VT"},{"r":248,"s":186.8,"t":"VT"},{"r":248,"s":260.5,"t":"VT"},{"r":248,"s":264.1,"t":"VT"},{"r":248,"s":299.9,"t":"IC"},
{"r":249,"s":203.1,"t":"IC"},{"r":251,"s":61.3,"t":"IC"},{"r":252,"s":67.7,"t":"TL"},
{"r":253,"s":162.3,"t":"LP"},{"r":253,"s":205.5,"t":"LP"},{"r":253,"s":225.7,"t":"LP"},{"r":253,"s":297.6,"t":"LP"},
{"r":254,"s":117.2,"t":"LP"},{"r":254,"s":119.2,"t":"IC"},{"r":254,"s":169.9,"t":"TR"},
{"r":256,"s":144.8,"t":"IC"},{"r":256,"s":225.7,"t":"IC"},{"r":257,"s":155.9,"t":"IC"},{"r":258,"s":202.5,"t":"AV"},
{"r":259,"s":31.8,"t":"RE"},{"r":259,"s":240,"t":"IC"},{"r":260,"s":65.6,"t":"RE"},{"r":261,"s":282.8,"t":"IC"},
{"r":263,"s":78.8,"t":"IC"},{"r":263,"s":172.6,"t":"IC"},{"r":265,"s":63.2,"t":"LP"},{"r":268,"s":103.1,"t":"IC"},{"r":268,"s":255.8,"t":"IC"},
{"r":271,"s":15.2,"t":"AV"},{"r":275,"s":2.6,"t":"VT"},{"r":275,"s":7.1,"t":"VT"},{"r":275,"s":108.1,"t":"DS"},
{"r":276,"s":137.8,"t":"IC"},{"r":277,"s":221.8,"t":"RE"},{"r":278,"s":181.4,"t":"DS"},{"r":281,"s":232.7,"t":"TL"},
{"r":283,"s":96.3,"t":"IC"},{"r":286,"s":196.5,"t":"RE"},{"r":287,"s":92.6,"t":"IC"},{"r":287,"s":210.3,"t":"IC"}
],
"legV": [{"t":"VT","i":0},{"t":"LP","i":1},{"t":"BQ","i":2},{"t":"HB","i":3},{"t":"TR","i":4},{"t":"TI","i":5},{"t":"EX","i":6},{"t":"SM","i":7},{"t":"TO","i":8},{"t":"AV","i":9},{"t":"IC","i":10},{"t":"CA","i":11},{"t":"IF","i":12},{"t":"SD","i":13}],
"legN": [{"t":"ZZ","i":0},{"t":"CN","i":1},{"t":"RY","i":2},{"t":"TL","i":3},{"t":"RE","i":4},{"t":"DS","i":5}]
},
"layer": [
{"data":{"name":"rows"},"transform":[{"filter":"datum.r % 6 != 0"}],
 "mark":{"type":"point","shape":"M-1,1L-1,-1L1,-1L1,1","size":36,"filled":false,"stroke":"#FF4500","strokeWidth":1,"opacity":1},
 "encoding":{"x":{"datum":0,"type":"quantitative","scale":{"domain":[-2.0526,301.105],"range":[0,1920],"nice":false,"zero":false},"axis":null},
 "y":{"field":"r","type":"quantitative","scale":{"domain":[-4.0753,309.72],"range":[0,4027],"nice":false,"zero":false},"axis":null}}},
{"data":{"name":"rows"},"transform":[{"filter":"datum.r % 6 == 0 && datum.r % 12 != 0"}],
 "mark":{"type":"point","shape":"M-1,1L-1,-1L1,-1L1,1","size":64,"filled":false,"stroke":"#FF0000","strokeWidth":1.2,"opacity":1,"xOffset":1.5},
 "encoding":{"x":{"datum":0,"type":"quantitative","scale":{"domain":[-2.0526,301.105],"range":[0,1920],"nice":false,"zero":false},"axis":null},
 "y":{"field":"r","type":"quantitative","axis":null}}},
{"data":{"name":"rows"},"transform":[{"filter":"datum.r % 12 == 0 && datum.r != 0 && datum.r != 288 && datum.r != 144"}],
 "mark":{"type":"point","shape":"M-1.4,1L-1.4,-1L1.4,-1L1.4,1","size":64,"filled":false,"stroke":"#0000FF","strokeWidth":2,"opacity":1,"xOffset":2},
 "encoding":{"x":{"datum":0,"type":"quantitative","scale":{"domain":[-2.0526,301.105],"range":[0,1920],"nice":false,"zero":false},"axis":null},
 "y":{"field":"r","type":"quantitative","axis":null}}},
{"data":{"name":"rows"},"transform":[{"filter":"datum.r == 144"}],
 "mark":{"type":"point","shape":"M-1.4,1L-1.4,-1L1.4,-1L1.4,1","size":64,"filled":false,"stroke":"#008000","strokeWidth":2,"opacity":1,"xOffset":2},
 "encoding":{"x":{"datum":0,"type":"quantitative","scale":{"domain":[-2.0526,301.105],"range":[0,1920],"nice":false,"zero":false},"axis":null},
 "y":{"field":"r","type":"quantitative","axis":null}}},
{"data":{"name":"rows"},"transform":[{"filter":"datum.r == 0 || datum.r == 288"}],
 "mark":{"type":"point","shape":"M-2,1L-2,-1L2,-1L2,1","size":100,"filled":false,"stroke":"#8B0000","strokeWidth":2.5,"opacity":1,"xOffset":6.5},
 "encoding":{"x":{"datum":0,"type":"quantitative","scale":{"domain":[-2.0526,301.105],"range":[0,1920],"nice":false,"zero":false},"axis":null},
 "y":{"field":"r","type":"quantitative","axis":null}}},
{"data":{"name":"rows"},"transform":[{"filter":"datum.lab"}],
 "mark":{"type":"text","align":"left","baseline":"middle","dx":19,"font":"Liberation Serif","fontWeight":"bold","fontSize":13,"fill":"#0000FF"},
 "encoding":{"x":{"datum":0,"type":"quantitative","scale":{"domain":[-2.0526,301.105],"range":[0,1920],"nice":false,"zero":false},"axis":null},
 "y":{"field":"r","type":"quantitative","axis":null},"text":{"field":"lab"}}},
{"data":{"name":"rows"},"transform":[{"filter":"datum.r < 288"}],
 "mark":{"type":"point","shape":"M-1,1L-1,-1L1,-1L1,1","size":36,"filled":false,"stroke":"#FF4500","strokeWidth":1,"opacity":1},
 "encoding":{"x":{"datum":60,"type":"quantitative","scale":{"domain":[-2.0526,301.105],"range":[0,1920],"nice":false,"zero":false},"axis":null},
 "y":{"field":"r","type":"quantitative","axis":null}}},
{"data":{"name":"rows"},"transform":[{"filter":"datum.r < 288"}],
 "mark":{"type":"point","shape":"M-1,1L-1,-1L1,-1L1,1","size":36,"filled":false,"stroke":"#FF4500","strokeWidth":1,"opacity":1},
 "encoding":{"x":{"datum":120,"type":"quantitative","scale":{"domain":[-2.0526,301.105],"range":[0,1920],"nice":false,"zero":false},"axis":null},
 "y":{"field":"r","type":"quantitative","axis":null}}},
{"data":{"name":"rows"},"transform":[{"filter":"datum.r < 288"}],
 "mark":{"type":"point","shape":"M-1,1L-1,-1L1,-1L1,1","size":36,"filled":false,"stroke":"#FF4500","strokeWidth":1,"opacity":1},
 "encoding":{"x":{"datum":180,"type":"quantitative","scale":{"domain":[-2.0526,301.105],"range":[0,1920],"nice":false,"zero":false},"axis":null},
 "y":{"field":"r","type":"quantitative","axis":null}}},
{"data":{"name":"rows"},"transform":[{"filter":"datum.r < 288"}],
 "mark":{"type":"point","shape":"M-1,1L-1,-1L1,-1L1,1","size":36,"filled":false,"stroke":"#FF4500","strokeWidth":1,"opacity":1},
 "encoding":{"x":{"datum":240,"type":"quantitative","scale":{"domain":[-2.0526,301.105],"range":[0,1920],"nice":false,"zero":false},"axis":null},
 "y":{"field":"r","type":"quantitative","axis":null}}},
{"data":{"name":"ev"},
 "mark":{"type":"point","shape":"circle","filled":true,"size":121,"stroke":"#000000","strokeWidth":1,"opacity":1,"yOffset":4},
 "encoding":{"x":{"field":"s","type":"quantitative","scale":{"domain":[-2.0526,301.105],"range":[0,1920],"nice":false,"zero":false},"axis":null},
 "y":{"field":"r","type":"quantitative","axis":null},
 "color":{"field":"t","type":"nominal","legend":null,"scale":{"domain":["VT","LP","BQ","HB","TR","TI","EX","SM","TO","AV","IC","CA","IF","SD","ZZ","CN","RY","TL","RE","DS"],
 "range":["#FF0000","#FFFF00","#F5DEB3","#FF8C00","#1E90FF","#00FFFF","#8B008B","#EEAEEE","#FFA500","#2E8B57","#D3D3D3","#4B2B4B","#FF00FF","#32CD32","#8A2BE2","#483D5B","#4B2D4B","#0000FF","#696969","#D2B48C"]}}}},
{"data":{"values":[{"h":"MCBE\u00a0\u00a0\u00a0\u00a0\u00a02023/06/07\u00a000:00\u00a0\u00a0\u00a0\u00a0\u00a0\u00a0(-32767)\u00a0\u00a0\u00a0\u00a0[5000]\u00a0\u00a0(R)"}]},
 "mark":{"type":"text","align":"center","baseline":"middle","font":"Liberation Serif","fontWeight":"bold","fontSize":14,"fill":"#0000FF"},
 "encoding":{"x":{"datum":153.3,"type":"quantitative","scale":{"domain":[-2.0526,301.105],"range":[0,1920],"nice":false,"zero":false},"axis":null},
 "y":{"datum":-3.1,"type":"quantitative","axis":null},"text":{"field":"h"}}},
{"data":{"name":"legV"},
 "mark":{"type":"point","shape":"circle","filled":true,"size":121,"stroke":"#000000","strokeWidth":1,"opacity":1},
 "encoding":{"x":{"field":"i","type":"quantitative","scale":{"domain":[-1.5,62.5],"range":[0,1920],"nice":false,"zero":false},"axis":null},
 "y":{"datum":305.83,"type":"quantitative","axis":null},
 "color":{"field":"t","type":"nominal","legend":null}}},
{"data":{"name":"legV"},
 "mark":{"type":"text","align":"center","baseline":"middle","font":"Liberation Serif","fontWeight":"bold","fontSize":14,"fill":"#000000"},
 "encoding":{"x":{"field":"i","type":"quantitative","scale":{"domain":[-1.5,62.5],"range":[0,1920],"nice":false,"zero":false},"axis":null},
 "y":{"datum":307.38,"type":"quantitative","axis":null},"text":{"field":"t"}}},
{"data":{"values":[{"h":"Sismos Volcánicos"}]},
 "mark":{"type":"text","align":"center","baseline":"middle","font":"Liberation Serif","fontWeight":"bold","fontSize":15,"fill":"#000000"},
 "encoding":{"x":{"datum":2.633,"type":"quantitative","scale":{"domain":[-1.5,62.5],"range":[0,1920],"nice":false,"zero":false},"axis":null},
 "y":{"datum":304.27,"type":"quantitative","axis":null},"text":{"field":"h"}}},
{"data":{"name":"legN"},
 "mark":{"type":"point","shape":"circle","filled":true,"size":121,"stroke":"#000000","strokeWidth":1,"opacity":1},
 "encoding":{"x":{"field":"i","type":"quantitative","scale":{"domain":[-57.5233,6.4767],"range":[0,1920],"nice":false,"zero":false},"axis":null},
 "y":{"datum":305.83,"type":"quantitative","axis":null},
 "color":{"field":"t","type":"nominal","legend":null}}},
{"data":{"name":"legN"},
 "mark":{"type":"text","align":"center","baseline":"middle","font":"Liberation Serif","fontWeight":"bold","fontSize":14,"fill":"#000000"},
 "encoding":{"x":{"field":"i","type":"quantitative","scale":{"domain":[-57.5233,6.4767],"range":[0,1920],"nice":false,"zero":false},"axis":null},
 "y":{"datum":307.38,"type":"quantitative","axis":null},"text":{"field":"t"}}},
{"data":{"values":[{"h":"Sismos No Volcánicos"}]},
 "mark":{"type":"text","align":"center","baseline":"middle","font":"Liberation Serif","fontWeight":"bold","fontSize":15,"fill":"#000000"},
 "encoding":{"x":{"datum":2.677,"type":"quantitative","scale":{"domain":[-57.5233,6.4767],"range":[0,1920],"nice":false,"zero":false},"axis":null},
 "y":{"datum":304.27,"type":"quantitative","axis":null},"text":{"field":"h"}}}
]
}
